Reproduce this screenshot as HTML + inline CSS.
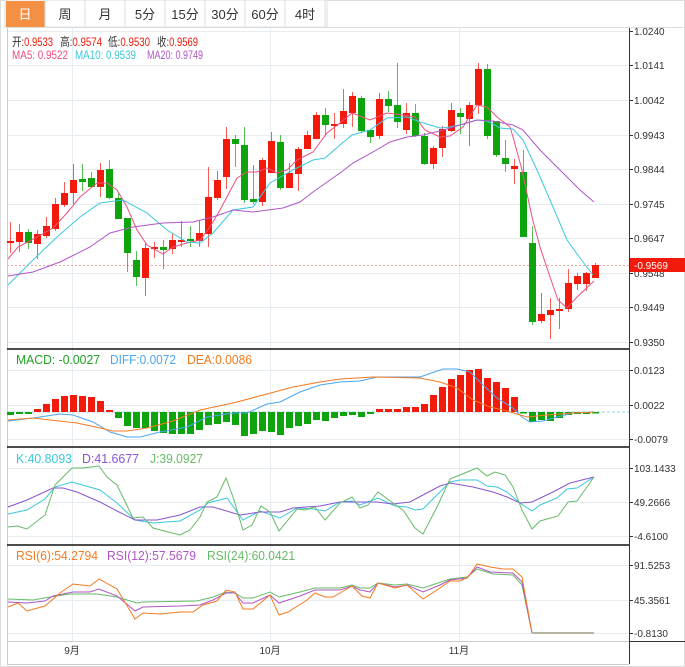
<!DOCTYPE html>
<html><head><meta charset="utf-8"><style>
body{margin:0;background:#fff;font-family:"Liberation Sans","Noto Sans CJK SC",sans-serif}
svg{display:block}
</style></head><body>
<svg id="s" width="685" height="667" xmlns="http://www.w3.org/2000/svg" font-family="Liberation Sans, Noto Sans CJK SC, sans-serif">
<rect x="0.5" y="0.5" width="684" height="666" fill="#fff" stroke="#ddd"/>
<g id="tabs"></g>
<g id="grid"></g>
<g id="plot"></g>
<g id="txt"></g>
</svg>
<script>
const NS="http://www.w3.org/2000/svg";
function el(p,t,a,txt){const e=document.createElementNS(NS,t);for(const k in a)e.setAttribute(k,a[k]);if(txt!==undefined)e.textContent=txt;document.getElementById(p).appendChild(e);return e;}
const tabs=["日","周","月","5分","15分","30分","60分","4时"];
el("tabs","rect",{x:5,y:0,width:322,height:27,fill:"#fff",stroke:"#ddd"});
tabs.forEach((t,i)=>{const x=5+i*40;
 if(i==0)el("tabs","rect",{x:6,y:1,width:39,height:26,fill:"#f39044"});
 else el("tabs","line",{x1:x,y1:0,x2:x,y2:27,stroke:"#ddd"});
 el("tabs","text",{x:x+20,y:19,"text-anchor":"middle","font-size":13,fill:i==0?"#fff":"#333"},t);});
el("tabs","line",{x1:325,y1:0,x2:325,y2:27,stroke:"#ddd"});
el("tabs","line",{x1:5,y1:27.5,x2:685,y2:27.5,stroke:"#ddd"});
const G="#e6edf2";
[31,65,100,135,169,204,238,273,307,342,370,405,439,468,502,536,565,600,633].forEach(y=>el("grid","line",{x1:7,y1:y+.5,x2:629,y2:y+.5,stroke:G}));
[72,270,459].forEach(x=>el("grid","line",{x1:x+.5,y1:28,x2:x+.5,y2:641,stroke:G}));
el("grid","line",{x1:7.5,y1:28,x2:7.5,y2:664,stroke:"#ccc"});
el("grid","line",{x1:629.5,y1:28,x2:629.5,y2:664,stroke:"#333"});
[349,447,545].forEach(y=>el("grid","line",{x1:7,y1:y,x2:629,y2:y,stroke:"#111","stroke-width":1.5}));
el("grid","line",{x1:629,y1:641.5,x2:685,y2:641.5,stroke:"#333"});
el("grid","line",{x1:7,y1:641.5,x2:629,y2:641.5,stroke:"#ccc"});
el("grid","line",{x1:7,y1:664.5,x2:629,y2:664.5,stroke:"#ccc"});
const C=[[241,243,222,253,1],[232,242,224,252,1],[232,243,229,249,0],[234,244,230,259,1],[226,236,217,238,1],[204,229,198,231,1],[193,205,182,207,1],[180,193,164,204,1],[179,182,164,191,0],[178,187,172,187,0],[170,187,163,197,1],[169,198,160,199,0],[198,219,193,219,0],[218,253,218,272,0],[260,277,251,286,0],[248,278,243,296,1],[247,249,242,258,1],[247,250,240,269,0],[240,249,233,254,1],[240,242,221,247,1],[239,241,226,247,0],[233,241,220,247,1],[197,234,167,247,1],[180,198,171,200,1],[139,177,127,189,1],[139,144,135,167,0],[145,200,127,203,0],[199,202,165,204,0],[160,202,158,206,1],[141,173,132,173,1],[142,188,135,190,0],[173,188,163,188,1],[149,174,147,191,1],[135,149,131,149,1],[115,139,112,139,1],[115,125,108,135,0],[124,125,113,139,1],[111,124,89,128,1],[96,113,92,127,1],[98,131,96,132,0],[130,137,130,143,0],[99,136,93,139,1],[99,106,91,112,0],[105,122,63,128,0],[113,130,103,134,1],[113,136,104,137,0],[136,164,133,165,0],[148,164,146,169,1],[129,148,126,157,1],[110,131,103,132,1],[113,117,108,134,0],[105,119,102,146,1],[69,105,63,114,1],[69,136,64,139,0],[121,155,121,157,0],[158,164,140,172,0],[166,169,159,184,1],[172,237,150,237,0],[243,322,226,325,0],[314,321,293,323,1],[310,315,298,339,1],[309,311,298,329,1],[283,309,269,312,1],[276,284,273,290,1],[273,284,272,291,1],[265,278,263,278,1]];
const RED="#f21a0a",GRN="#0ea40e";
el("plot","line",{x1:7,y1:265.5,x2:629,y2:265.5,stroke:"#f3a0a0","stroke-dasharray":"2,2"});
C.forEach((c,i)=>{const x=10+9*i,col=c[4]?RED:GRN;
 el("plot","line",{x1:x+.5,y1:c[2],x2:x+.5,y2:c[3],stroke:col,"stroke-opacity":.7});
 el("plot","rect",{x:x-3,y:c[0],width:7,height:Math.max(2,c[1]-c[0]),fill:col});});
function pl(pts,col,w){el("plot","polyline",{points:pts,fill:"none",stroke:col,"stroke-width":w||1});}
pl("8,259 18,247 37,237 53,228 67,213 80,197 97,183 107,183 117,190 127,207 137,230 147,245 163,254 173,247 187,243 200,240 210,227 220,210 237,178 247,172 257,172 267,168 277,173 287,170 297,160 313,152 327,133 340,123 352,113 370,120 387,113 403,115 415,117 425,130 440,137 450,136 463,127 477,105 487,107 497,117 510,127 513,137 522,170 532,217 540,247 550,277 558,300 567,308 577,297 594,281","#ee4f7e");
pl("8,285 33,260 57,237 80,217 100,203 123,200 147,213 167,230 187,242 200,243 213,233 233,210 253,207 270,183 293,170 313,160 325,158 340,145 352,135 370,130 387,118 407,117 420,122 440,128 450,127 463,124 477,120 487,121 500,128 513,129 523,140 537,170 553,207 567,240 580,258 593,275","#3cc8dc");
pl("8,276 33,272 60,262 90,247 110,233 133,227 163,223 193,222 213,217 233,210 253,212 283,208 300,202 313,192 340,173 353,163 373,152 390,142 407,137 423,135 440,131 460,125 477,120 493,121 513,125 523,130 540,150 560,170 580,190 594,202","#b056c8");
el("plot","line",{x1:7,y1:412,x2:629,y2:412,stroke:"#8fd3e8","stroke-dasharray":"3,2"});
const M=[415,414,414,409,404,399,396,395,396,397,401,410,418,426,428,428,431,433,434,434,434,430,425,424,422,425,436,434,431,432,435,428,426,424,420,421,418,416,415,417,414,409,409,409,407,407,404,395,387,379,375,370,369,378,382,388,397,413,422,420,421,418,415,414,414,413];
M.forEach((v,i)=>{const x=10+9*i;const up=v<412;el("plot","rect",{x:x-3,y:Math.min(v,412),width:7,height:Math.max(1.5,Math.abs(v-412)),fill:up?RED:GRN});});
pl("8,421 33,418 60,414 73,415 93,422 110,432 127,437 140,437 160,432 187,427 207,417 233,413 247,413 267,404 280,402 300,392 320,385 340,382 360,381 377,377 420,377 443,369 457,369 470,372 483,385 497,398 513,408 522,417 530,422 543,421 557,417 573,413 593,412","#4ba6f0");
pl("8,420 33,418 50,420 77,423 100,428 113,431 127,431 147,428 173,421 200,410 233,403 267,394 293,387 320,382 340,379 373,377 420,378 440,382 457,388 473,400 490,407 507,411 527,417 547,415 573,413 594,412","#f47a20");
pl("8,514 27,510 45,499 55,487 72,482 100,490 117,503 135,520 153,523 180,521 200,510 208,503 227,498 243,520 260,511 280,518 297,508 313,509 325,511 340,502 352,501 360,505 378,498 395,506 407,507 415,510 423,509 450,482 460,480 477,480 487,486 497,487 507,492 520,503 532,511 540,505 557,498 567,489 577,488 594,477","#3cc8dc");
pl("8,507 27,500 53,488 63,488 77,492 100,502 117,511 135,520 157,520 180,515 200,507 213,507 240,515 260,512 280,512 293,508 320,506 340,502 360,502 377,502 393,504 410,502 423,495 440,486 450,483 473,487 493,492 507,497 520,503 532,502 553,492 570,483 594,477","#8a55d0");
pl("8,527 17,526 27,529 45,515 55,485 72,468 83,468 99,466 107,477 117,485 133,518 143,517 153,528 180,535 190,530 200,517 207,502 217,497 226,478 233,497 243,530 252,525 261,506 270,512 279,531 297,509 305,510 315,507 325,520 340,503 352,497 360,508 368,505 378,492 393,503 403,510 415,528 423,534 437,507 450,479 477,468 487,476 495,472 505,475 513,487 522,510 532,529 540,521 558,516 568,502 577,501 594,477","#66bb66");
pl("8,599 33,600 50,597 70,594 97,594 117,597 137,603 143,602 197,601 213,597 226,592 235,593 243,598 253,598 270,592 279,597 300,592 315,588 340,588 352,585 360,588 370,588 378,583 395,585 407,584 423,588 450,579 467,577 477,569 493,574 513,575 522,585 532,633","#66bb66");
pl("8,602 27,603 45,601 53,596 73,592 90,592 99,589 117,596 135,611 143,607 180,606 200,605 213,600 226,593 235,593 243,603 253,603 270,595 279,603 300,596 315,590 340,590 352,586 360,590 370,592 378,583 395,587 407,585 423,592 440,585 450,580 467,578 477,567 490,572 513,573 522,582 532,633","#b056c8");
pl("8,607 18,603 27,611 45,606 60,593 73,584 90,586 99,579 117,589 135,619 143,613 160,614 180,612 193,612 203,605 217,601 226,590 235,592 243,609 253,609 270,595 279,615 288,612 307,600 315,593 325,597 333,597 340,593 352,586 362,596 370,598 378,583 395,588 407,585 423,599 440,588 450,581 460,581 468,577 477,564 490,567 503,569 513,569 522,577 532,633","#f47a20");
el("plot","line",{x1:532,y1:633,x2:594,y2:633,stroke:"#b8b4a0","stroke-width":2});
const L=[[31,"1.0240"],[65,"1.0141"],[100,"1.0042"],[135,"0.9943"],[169,"0.9844"],[204,"0.9745"],[238,"0.9647"],[273,"0.9548"],[307,"0.9449"],[342,"0.9350"],[370,"0.0123"],[405,"0.0022"],[439,"-0.0079"],[468,"103.1433"],[502,"49.2666"],[536,"-4.6100"],[565,"91.5253"],[600,"45.3561"],[633,"-0.8130"]];
L.forEach(l=>{el("txt","line",{x1:629,y1:l[0]+.5,x2:633,y2:l[0]+.5,stroke:"#333"});el("txt","text",{x:634,y:l[0]+4,"font-size":10,fill:"#333"},l[1]);});
el("txt","rect",{x:630,y:258,width:55,height:14,fill:RED});
el("txt","text",{x:634,y:269,"font-size":10,fill:"#fff"},"-0.9569");
[[72,"9月"],[270,"10月"],[459,"11月"]].forEach(d=>el("txt","text",{x:d[0],y:654,"font-size":10,fill:"#333","text-anchor":"middle"},d[1]));
function lg(y,fs,items){items.forEach(it=>{const t=el("txt","text",{x:it[0],y:y,"font-size":fs,textLength:it[1],lengthAdjust:"spacingAndGlyphs"});it[2].forEach(p=>{const s=document.createElementNS(NS,"tspan");s.setAttribute("fill",p[1]);s.textContent=p[0];t.appendChild(s);});});}
lg(46,12,[[12,41,[["开:","#333"],["0.9533","#f21a0a"]]],[60,42,[["高:","#333"],["0.9574","#f21a0a"]]],[108,42,[["低:","#333"],["0.9530","#f21a0a"]]],[157,41,[["收:","#333"],["0.9569","#f21a0a"]]]]);
lg(59,12,[[12,56,[["MA5: 0.9522","#ee4f7e"]]],[75,61,[["MA10: 0.9539","#3cc8dc"]]],[147,56,[["MA20: 0.9749","#b056c8"]]]]);
lg(364,13,[[16,84,[["MACD: -0.0027","#22a022"]]],[110,66,[["DIFF:0.0072","#4ba6f0"]]],[187,65,[["DEA:0.0086","#f47a20"]]]]);
lg(463,13,[[16,56,[["K:40.8093","#3cc8dc"]]],[82,57,[["D:41.6677","#8a55d0"]]],[150,53,[["J:39.0927","#66bb66"]]]]);
lg(560,13,[[16,82,[["RSI(6):54.2794","#f47a20"]]],[107,89,[["RSI(12):57.5679","#b056c8"]]],[207,88,[["RSI(24):60.0421","#66bb66"]]]]);
</script>
</body></html>
